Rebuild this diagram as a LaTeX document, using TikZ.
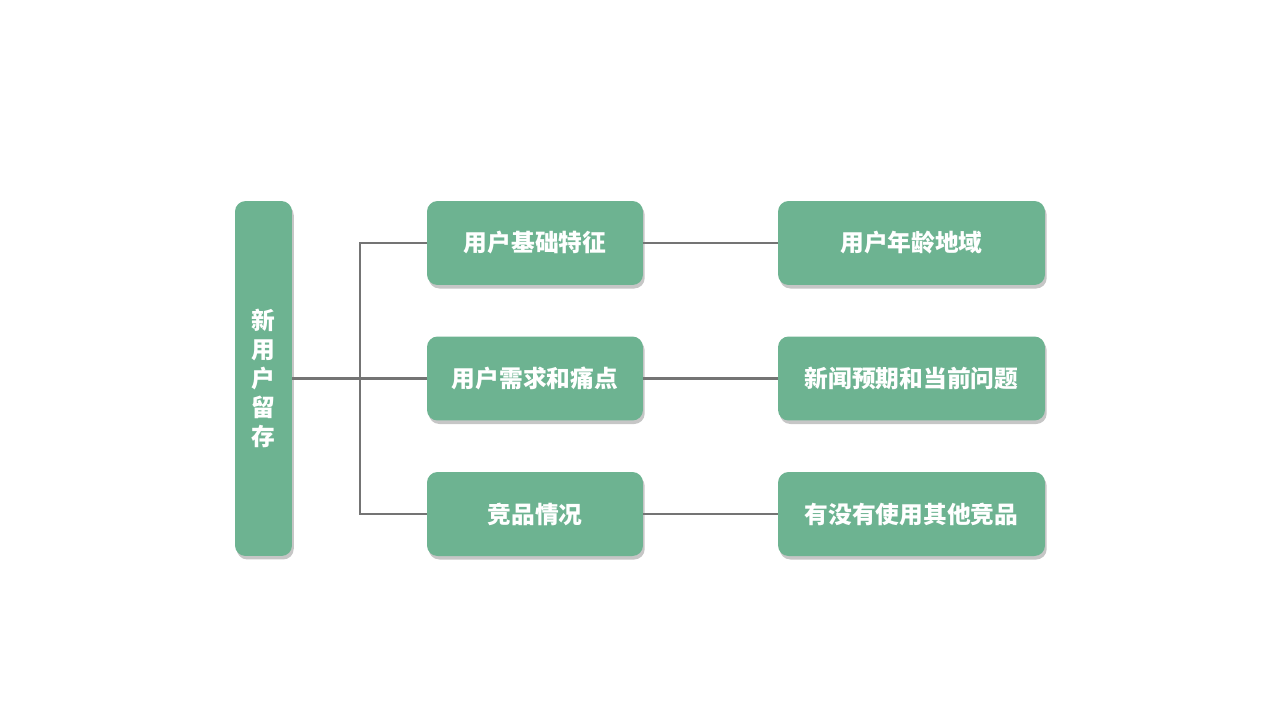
\documentclass[tikz,border=0pt]{standalone}
\usepackage{fontspec}
\setmainfont{Noto Sans CJK SC}
\usepackage{tikz}
\usetikzlibrary{shadows}

\definecolor{boxgreen}{HTML}{6DB391}
\definecolor{linegray}{HTML}{747474}

\tikzset{
  card/.style={fill=boxgreen, rounded corners=6pt, text=white,
    font=\fontsize{13.5}{16.4}\selectfont\bfseries, align=center,
    inner sep=0pt, minimum height=1.68cm,
    drop shadow={opacity=0.45, shadow xshift=1pt, shadow yshift=-2pt}},
  link/.style={draw=linegray, line width=1.5pt}
}

\begin{document}
\begin{tikzpicture}[x=0.02cm, y=-0.02cm]

\useasboundingbox (0,0) rectangle (1280,720);

% left column
\node[card, minimum width=1.14cm, minimum height=7.1cm] (retain) at (263.5,378.5)
  {新\\用\\户\\留\\存};

% middle column
\node[card, minimum width=4.32cm] (basic) at (535,243) {用户基础特征};
\node[card, minimum width=4.32cm] (needs) at (535,378.5) {用户需求和痛点};
\node[card, minimum width=4.32cm] (rival) at (535,514) {竞品情况};

% right column
\node[card, minimum width=5.34cm] (age) at (911.5,243) {用户年龄地域};
\node[card, minimum width=5.34cm] (news) at (911.5,378.5) {新闻预期和当前问题};
\node[card, minimum width=5.34cm] (other) at (911.5,514) {有没有使用其他竞品};

% connectors
\coordinate (bus) at (360,378.5);
\draw[link] (retain.east) -- (needs.west);
\draw[link] (basic.west) -| (bus) |- (rival.west);
\draw[link] (basic.east) -- (age.west);
\draw[link] (needs.east) -- (news.west);
\draw[link] (rival.east) -- (other.west);

\end{tikzpicture}
\end{document}
